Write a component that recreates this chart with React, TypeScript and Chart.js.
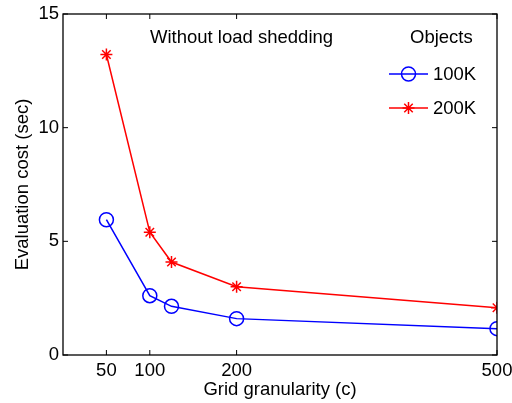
import React, { useEffect, useRef } from "react";
import { Chart, registerables } from "chart.js";

Chart.register(...registerables);

const xValues = [50, 100, 125, 200, 500];
const series100K = [5.95, 2.61, 2.14, 1.6, 1.16];
const series200K = [13.22, 5.4, 4.09, 3.0, 2.08];
const xTicks = [50, 100, 200, 500];
const yTicks = [0, 5, 10, 15];
const legendTitle = "Objects";
const annotationText = "Without load shedding";
const xTitle = "Grid granularity (c)";
const yTitle = "Evaluation cost (sec)";
const seriesLabels = ["100K", "200K"];

const FONT = '"Liberation Sans", Arial, Helvetica, sans-serif';
const FS = 18.5;

const boxPlugin = {
  id: "matlabBox",
  afterDraw(chart: any) {
    const { ctx, chartArea } = chart;
    const { left, right, top, bottom } = chartArea;
    const xs = chart.scales.x;
    const ys = chart.scales.y;
    ctx.save();
    ctx.strokeStyle = "#000";
    ctx.lineWidth = 1.3;
    ctx.strokeRect(left, top, right - left, bottom - top);
    const tl = 5;
    ctx.lineWidth = 1;
    ctx.beginPath();
    xTicks.forEach((v) => {
      const px = xs.getPixelForValue(v);
      ctx.moveTo(px, bottom);
      ctx.lineTo(px, bottom - tl);
      ctx.moveTo(px, top);
      ctx.lineTo(px, top + tl);
    });
    yTicks.forEach((v) => {
      const py = ys.getPixelForValue(v);
      ctx.moveTo(left, py);
      ctx.lineTo(left + tl, py);
      ctx.moveTo(right, py);
      ctx.lineTo(right - tl, py);
    });
    ctx.stroke();

    // annotation + legend
    ctx.fillStyle = "#000";
    ctx.font = `${FS}px ${FONT}`;
    ctx.textBaseline = "middle";
    ctx.textAlign = "left";
    ctx.fillText(annotationText, left + 87, top + 24);
    ctx.fillText(legendTitle, right - 87, top + 24);

    const ds = chart.data.datasets;
    ds.forEach((d: any, i: number) => {
      const y = top + 60 + i * 34;
      const x0 = right - 108;
      const x1 = right - 69;
      const xm = (x0 + x1) / 2;
      ctx.strokeStyle = d.borderColor;
      ctx.lineWidth = 1.5;
      ctx.beginPath();
      ctx.moveTo(x0, y);
      ctx.lineTo(x1, y);
      ctx.stroke();
      const r = d.pointRadius;
      if (d.pointStyle === "circle") {
        ctx.beginPath();
        ctx.arc(xm, y, r, 0, Math.PI * 2);
        ctx.stroke();
      } else {
        ctx.beginPath();
        for (let k = 0; k < 4; k++) {
          const a = (k * Math.PI) / 4;
          ctx.moveTo(xm - r * Math.cos(a), y - r * Math.sin(a));
          ctx.lineTo(xm + r * Math.cos(a), y + r * Math.sin(a));
        }
        ctx.stroke();
      }
      ctx.fillStyle = "#000";
      ctx.fillText(d.label, x1 + 5, y + 1);
    });
    ctx.restore();
  },
};

export default function App() {
  const ref = useRef<HTMLCanvasElement | null>(null);
  useEffect(() => {
    if (!ref.current) return;
    const chart = new Chart(ref.current, {
      type: "line",
      data: {
        datasets: [
          {
            label: seriesLabels[0],
            data: xValues.map((x, i) => ({ x, y: series100K[i] })),
            borderColor: "#0000ff",
            backgroundColor: "rgba(0,0,0,0)",
            borderWidth: 1.5,
            pointStyle: "circle",
            pointRadius: 7,
            pointBorderWidth: 1.5,
            pointBackgroundColor: "rgba(0,0,0,0)",
            pointBorderColor: "#0000ff",
            tension: 0,
          },
          {
            label: seriesLabels[1],
            data: xValues.map((x, i) => ({ x, y: series200K[i] })),
            borderColor: "#ff0000",
            backgroundColor: "rgba(0,0,0,0)",
            borderWidth: 1.5,
            pointStyle: "star",
            pointRadius: 6,
            pointBorderWidth: 1.5,
            pointBackgroundColor: "rgba(0,0,0,0)",
            pointBorderColor: "#ff0000",
            tension: 0,
          },
        ],
      },
      options: {
        animation: false,
        responsive: false,
        devicePixelRatio: 1,
        layout: { padding: { left: 0, right: 15, top: 14, bottom: 0 } },
        plugins: { legend: { display: false }, tooltip: { enabled: false } },
        scales: {
          x: {
            type: "linear",
            min: 0,
            max: 500,
            afterBuildTicks: (s: any) => {
              s.ticks = xTicks.map((v) => ({ value: v }));
            },
            afterFit: (s: any) => {
              s.height = 48;
              s.paddingLeft = 0;
              s.paddingRight = 0;
            },
            grid: { display: false, drawTicks: false },
            border: { display: false },
            ticks: {
              color: "#000",
              font: { family: FONT, size: FS },
              padding: 5,
              maxRotation: 0,
              autoSkip: false,
            },
            title: {
              display: true,
              text: xTitle,
              color: "#000",
              font: { family: FONT, size: FS },
              padding: { top: 0, bottom: 2 },
            },
          },
          y: {
            type: "linear",
            min: 0,
            max: 15,
            afterBuildTicks: (s: any) => {
              s.ticks = yTicks.map((v) => ({ value: v }));
            },
            afterFit: (s: any) => {
              s.width = 63;
              s.paddingTop = 0;
              s.paddingBottom = 0;
            },
            grid: { display: false, drawTicks: false },
            border: { display: false },
            ticks: {
              color: "#000",
              font: { family: FONT, size: FS },
              padding: 4,
              autoSkip: false,
            },
            title: {
              display: true,
              text: yTitle,
              color: "#000",
              font: { family: FONT, size: FS },
              padding: { top: 12, bottom: 0 },
            },
          },
        },
      },
      plugins: [boxPlugin],
    } as any);
    return () => chart.destroy();
  }, []);
  return (
    <div style={{ position: "absolute", left: 0, top: 0, width: 512, height: 403, background: "#fff" }}>
      <canvas ref={ref} width={512} height={403} />
    </div>
  );
}
